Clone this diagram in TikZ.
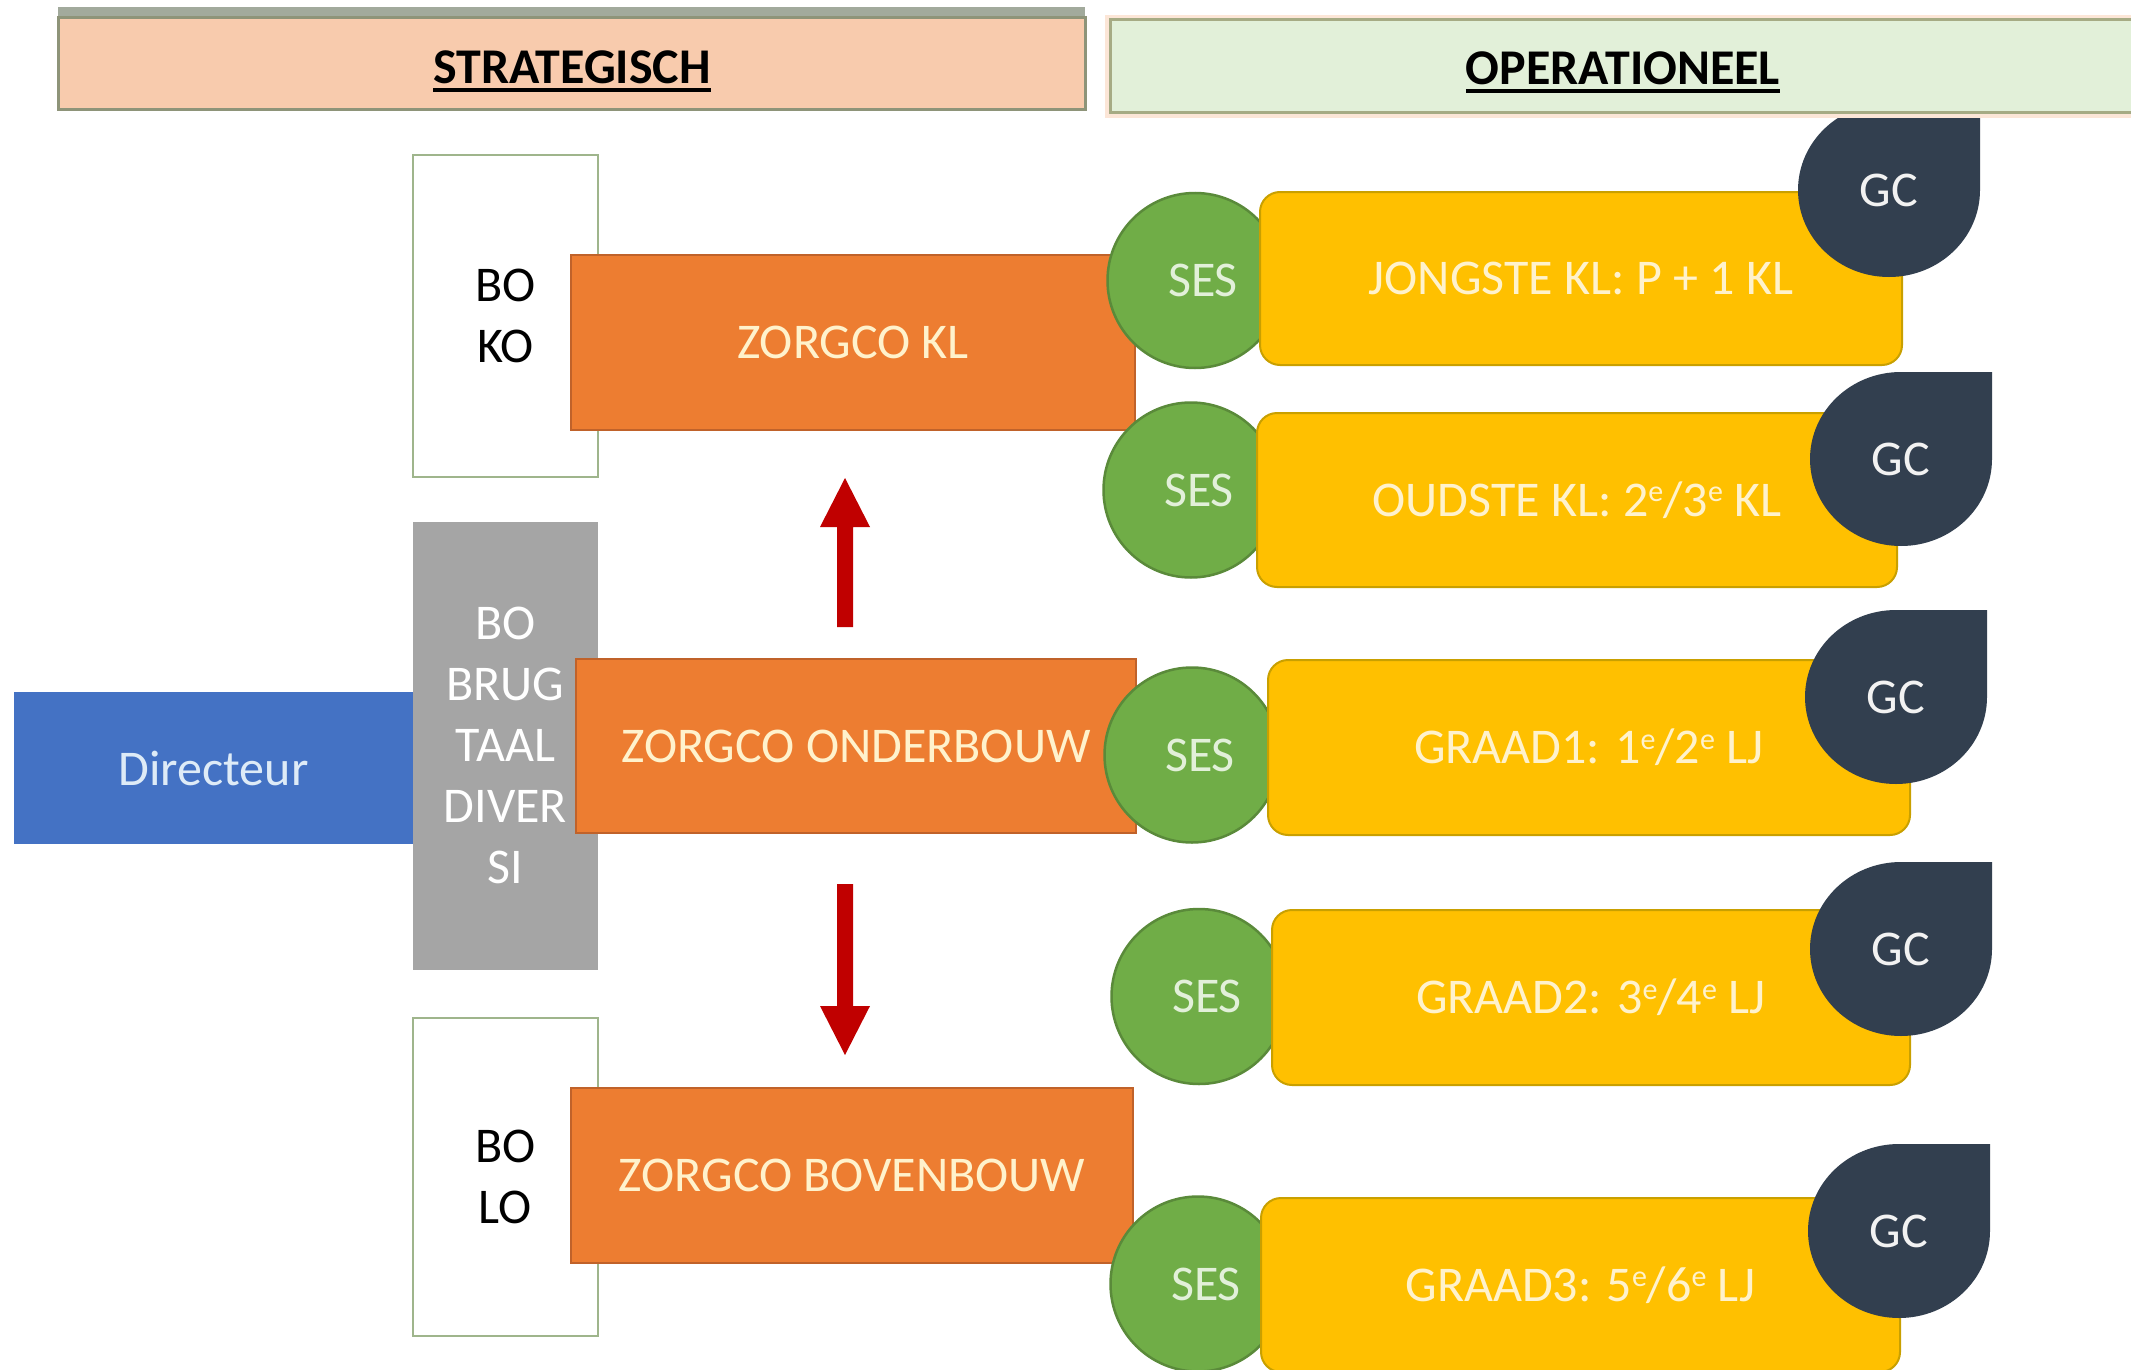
\documentclass[tikz,border=0pt]{standalone}
\usepackage{fontspec}
\setmainfont{Carlito}
\usetikzlibrary{shapes.geometric}
\definecolor{peach}{HTML}{F8CBAD}
\definecolor{mint}{HTML}{E2F0D9}
\definecolor{olive}{HTML}{8E9479}
\definecolor{olivelight}{HTML}{A6AB84}
\definecolor{glow}{HTML}{FCE6D7}
\definecolor{bandgray}{HTML}{A2AA9C}
\definecolor{bogreen}{HTML}{9FB58C}
\definecolor{zorange}{HTML}{ED7D31}
\definecolor{zorangeD}{HTML}{C0622A}
\definecolor{graybox}{HTML}{A5A5A5}
\definecolor{dirblue}{HTML}{4472C4}
\definecolor{sesgreen}{HTML}{70AD47}
\definecolor{sesgreenD}{HTML}{5A8A3A}
\definecolor{ygold}{HTML}{FFC000}
\definecolor{ygoldD}{HTML}{C9A000}
\definecolor{gcnavy}{HTML}{323F4F}
\definecolor{arrowred}{HTML}{C00000}
\definecolor{cream}{HTML}{FFF2CC}
\definecolor{sestext}{HTML}{E2F0D9}
\definecolor{gctext}{HTML}{F2F2F2}
\definecolor{dirtext}{HTML}{DEEBF7}
\newcommand\gcdrop[3]{%
  \fill[gcnavy] (#2+91,#3-87) -- (#2,#3-87)
    arc[start angle=90,end angle=360,x radius=91pt,y radius=87pt] -- cycle;
  \node[gclabel] (#1) at (#2,#3) {GC};}
\newcommand\supe{\raisebox{0.62ex}{\fontsize{30}{30}\selectfont e}}
\begin{document}
\begin{tikzpicture}[x=1pt,y=-1pt,
  every node/.style={inner sep=0pt, outer sep=0pt, font=\fontsize{50}{61}\selectfont, align=center},
  bobox/.style={rectangle, draw=bogreen, line width=2pt, fill=white, text=black, minimum width=185pt},
  zbox/.style={rectangle, fill=zorange, draw=zorangeD, line width=1.5pt, text=cream},
  sesnode/.style={circle, fill=sesgreen, draw=sesgreenD, line width=2.5pt, minimum size=175pt},
  ybox/.style={rectangle, fill=ygold, draw=ygoldD, line width=2pt, rounded corners=20pt, text=cream},
  gclabel/.style={text=gctext},
  headtext/.style={font=\fontsize{50}{61}\selectfont\bfseries, text=black},
]
\useasboundingbox (0,0) rectangle (2131,1370);
\fill[white] (0,0) rectangle (2131,1370);

% left column
\node[bobox, minimum height=321pt] (boko) at (505.5,316) {BO\\KO};
\node[rectangle, fill=graybox, minimum width=185pt, minimum height=448pt, text=white] (bobrug) at (505.5,745.5) {BO\\BRUG\\TAAL\\DIVER\\SI};
\node[rectangle, fill=dirblue, minimum width=399pt, minimum height=152pt, text=dirtext] (dir) at (213.5,768) {Directeur};
\node[bobox, minimum height=318pt] (bolo) at (505.5,1177) {BO\\LO};

% zorgco boxes
\node[zbox, minimum width=564pt, minimum height=175pt] (zkl) at (853,342.5) {ZORGCO KL};
\node[zbox, minimum width=560pt, minimum height=174pt] (zob) at (856,746) {ZORGCO ONDERBOUW};
\node[zbox, minimum width=562pt, minimum height=175pt] (zbb) at (852,1175.5) {ZORGCO BOVENBOUW};

% red block arrows
\fill[arrowred] (845,478) -- (870,527) -- (853,527) -- (853,627) -- (837,627) -- (837,527) -- (820,527) -- cycle;
\fill[arrowred] (845,1055) -- (870,1006) -- (853,1006) -- (853,884) -- (837,884) -- (837,1006) -- (820,1006) -- cycle;

% SES circles
\node[sesnode, label={[text=sestext,xshift=8pt]center:SES}] (ses1) at (1195,280.5) {};
\node[sesnode, label={[text=sestext,xshift=8pt]center:SES}] (ses2) at (1191,490) {};
\node[sesnode, label={[text=sestext,xshift=8pt]center:SES}] (ses3) at (1192,755) {};
\node[sesnode, label={[text=sestext,xshift=8pt]center:SES}] (ses4) at (1199,996.5) {};
\node[sesnode, label={[text=sestext,xshift=8pt]center:SES}] (ses5) at (1198,1284) {};

% yellow boxes
\node[ybox, minimum width=642pt, minimum height=173pt] (y1) at (1581,278.5) {JONGSTE KL: P + 1 KL};
\node[ybox, minimum width=640pt, minimum height=174pt] (y2) at (1577,500) {OUDSTE KL: 2\supe/3\supe{} KL};
\node[ybox, minimum width=642pt, minimum height=175pt] (y3) at (1589,747.5) {GRAAD1: 1\supe/2\supe{} LJ};
\node[ybox, minimum width=638pt, minimum height=175pt] (y4) at (1591,997.5) {GRAAD2: 3\supe/4\supe{} LJ};
\node[ybox, minimum width=639pt, minimum height=174pt] (y5) at (1580.5,1285) {GRAAD3: 5\supe/6\supe{} LJ};

% GC teardrops
\gcdrop{gc1}{1889}{190}
\gcdrop{gc2}{1901}{459}
\gcdrop{gc3}{1896}{697}
\gcdrop{gc4}{1901}{949}
\gcdrop{gc5}{1899}{1231}

% headers
\fill[bandgray] (58,7) rectangle (1085,30);
\node[rectangle, fill=peach, draw=olive, line width=3pt, minimum width=1027pt, minimum height=92pt] (strat) at (571.5,64) {};
\node[rectangle, fill=mint, draw=olivelight, line width=3pt, minimum width=1030pt, minimum height=93pt,
      preaction={draw=glow, line width=10pt}] (oper) at (1625,66.5) {};
\node[headtext] (strattxt) at (572,67) {STRATEGISCH};
\node[headtext] (opertxt) at (1623,68) {OPERATIONEEL};
\draw[line width=4pt] ([yshift=-6pt]strattxt.south west) -- ([yshift=-6pt]strattxt.south east);
\draw[line width=4pt] ([yshift=-6pt]opertxt.south west) -- ([yshift=-6pt]opertxt.south east);
\end{tikzpicture}
\end{document}
